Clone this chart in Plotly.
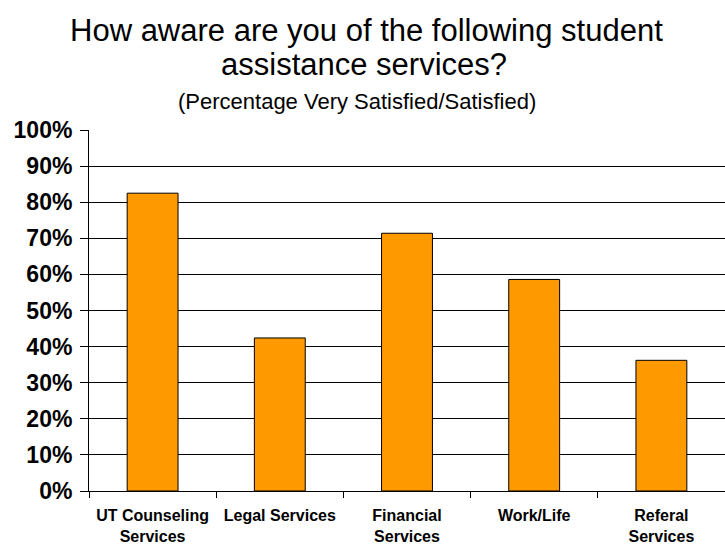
import plotly.graph_objects as go

# Survey results: share of respondents aware of each service
services = [
    "UT Counseling<br>Services",
    "Legal Services",
    "Financial<br>Services",
    "Work/Life",
    "Referal<br>Services",
]
pct_aware = [82.5, 42.4, 71.4, 58.6, 36.2]

y_ticks = list(range(0, 101, 10))
y_labels = [f"{v}%" for v in y_ticks]

title_lines = [
    "How aware are you of the following student",
    "assistance services?",
]
subtitle = "(Percentage Very Satisfied/Satisfied)"

FONT = "Liberation Sans, Arial, sans-serif"

fig = go.Figure(
    go.Bar(
        x=services,
        y=pct_aware,
        marker=dict(color="#FF9900", line=dict(color="#000000", width=1)),
        hoverinfo="x+y",
    )
)


def header(text, x, shift, size):
    return dict(
        text=text,
        x=x, y=1, xref="paper", yref="paper",
        xanchor="center", yanchor="middle",
        yshift=shift,
        showarrow=False,
        font=dict(family=FONT, size=size, color="black"),
    )


fig.update_layout(
    width=725,
    height=544,
    margin=dict(l=89, r=0, t=130, b=53),
    paper_bgcolor="white",
    plot_bgcolor="white",
    bargap=0.6,
    showlegend=False,
    font=dict(family=FONT, color="black"),
    annotations=[
        header(title_lines[0], 0.436, 100, 31),
        header(title_lines[1], 0.433, 66, 31),
        header(subtitle, 0.422, 29, 22),
    ],
)

fig.update_xaxes(
    type="category",
    automargin=False,
    showline=True,
    linecolor="black",
    linewidth=1,
    ticks="outside",
    tickson="boundaries",
    ticklen=6,
    tickcolor="black",
    showgrid=False,
    ticklabelstandoff=10,
    tickfont=dict(family=FONT, size=16, color="black", weight="bold"),
    range=[-0.5, 4.5],
)

fig.update_yaxes(
    range=[0, 100],
    automargin=False,
    tickvals=y_ticks,
    ticktext=y_labels,
    showline=True,
    linecolor="black",
    linewidth=1,
    ticks="outside",
    ticklen=8,
    tickcolor="black",
    showgrid=True,
    gridcolor="black",
    gridwidth=1,
    zeroline=False,
    ticklabelstandoff=3,
    tickfont=dict(family=FONT, size=23, color="black", weight="bold"),
)

fig.write_html("out.html")
